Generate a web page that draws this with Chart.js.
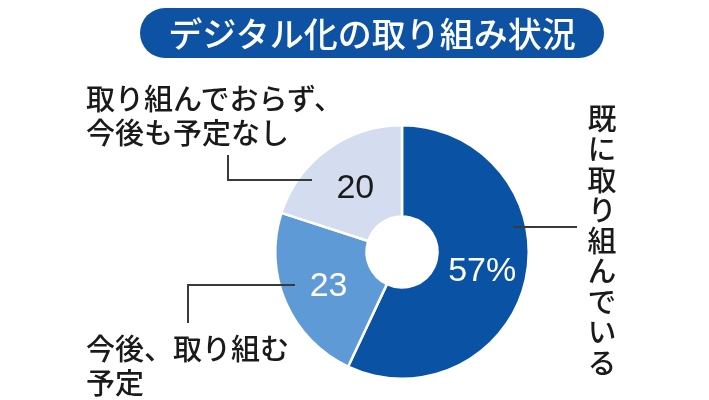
<!DOCTYPE html>
<html>
<head>
<meta charset="utf-8">
<script src="https://cdn.jsdelivr.net/npm/chart.js@4"></script>
<style>
  html, body { margin:0; padding:0; background:#fff; }
  #wrap { position:relative; width:709px; height:400px; overflow:hidden; font-family:"Noto Sans CJK JP", sans-serif; }
  canvas { position:absolute; left:0; top:0; }
  #title { position:absolute; left:140px; top:8px; width:464px; height:50px; border-radius:25px; background:#0d52a3; color:#fff; font-size:34px; font-weight:500; line-height:50px; text-align:center; }
  .lbl { position:absolute; color:#1a1a1a; font-size:29px; font-weight:500; line-height:34px; white-space:nowrap; }
  #lblR { position:absolute; left:586px; top:104px; writing-mode:vertical-rl; color:#1a1a1a; font-size:29px; font-weight:500; line-height:32px; letter-spacing:1.5px; white-space:nowrap; }
</style>
</head>
<body>
<div id="wrap">
  <canvas id="c" width="709" height="400"></canvas>
  <div id="title"></div>
  <div class="lbl" id="lblA" style="left:86px; top:80px;"></div>
  <div class="lbl" id="lblB" style="left:86px; top:330px;"></div>
  <div id="lblR"></div>
</div>
<script>
const titleText = "デジタル化の取り組み状況";
const categories = ["既に取り組んでいる", "今後、取り組む予定", "取り組んでおらず、今後も予定なし"];
const labelLines = [["既に取り組んでいる"], ["今後、取り組む", "予定"], ["取り組んでおらず、", "今後も予定なし"]];
const values = [57, 23, 20];
const valueLabels = ["57%", "23", "20"];
const sliceColors = ["#0a52a4", "#5e9bd6", "#d3ddef"];
const valueColors = ["#ffffff", "#ffffff", "#1a1a1a"];

document.getElementById('title').textContent = titleText;
document.getElementById('lblR').textContent = labelLines[0][0];
document.getElementById('lblB').innerHTML = labelLines[1].join('<br>');
document.getElementById('lblA').innerHTML = labelLines[2].join('<br>');

const valuePlugin = {
  id: 'valueLabels',
  afterDatasetsDraw(chart) {
    const ctx = chart.ctx;
    const meta = chart.getDatasetMeta(0);
    ctx.save();
    ctx.font = '34px "Liberation Sans", Arial, sans-serif';
    ctx.textAlign = 'center';
    ctx.textBaseline = 'middle';
    meta.data.forEach((arc, i) => {
      const p = arc.tooltipPosition();
      ctx.fillStyle = valueColors[i];
      ctx.fillText(valueLabels[i], p.x + 1, p.y + 2);
    });
    // leader lines
    ctx.strokeStyle = '#3a3a3a';
    ctx.lineWidth = 2;
    ctx.beginPath();
    ctx.moveTo(228, 155); ctx.lineTo(228, 180); ctx.lineTo(312, 180);
    ctx.moveTo(295, 285); ctx.lineTo(188, 285); ctx.lineTo(188, 323);
    ctx.moveTo(513, 227); ctx.lineTo(577, 227);
    ctx.stroke();
    ctx.restore();
  }
};

new Chart(document.getElementById('c'), {
  type: 'doughnut',
  data: {
    labels: categories,
    datasets: [{
      data: values,
      backgroundColor: sliceColors,
      borderColor: '#ffffff',
      borderWidth: 2.5,
      hoverOffset: 0
    }]
  },
  options: {
    responsive: false,
    animation: false,
    cutout: '28%',
    rotation: 0,
    layout: { padding: { left: 274, right: 179, top: 124, bottom: 20 } },
    plugins: { legend: { display: false }, tooltip: { enabled: false }, title: { display: false } }
  },
  plugins: [valuePlugin]
});
</script>
</body>
</html>
